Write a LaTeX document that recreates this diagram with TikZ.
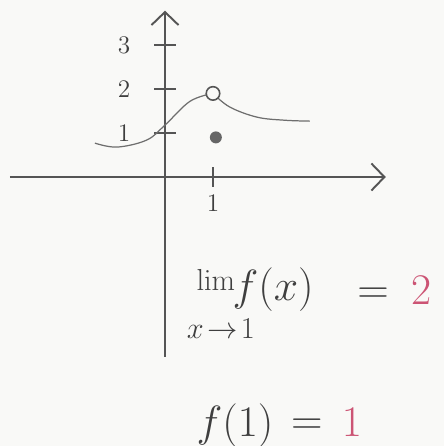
\documentclass[tikz,border=0pt]{standalone}
\usepackage{amsmath,amssymb}
\usepackage{xcolor}
\usepackage{tikz}
\usetikzlibrary{positioning,arrows.meta,calc}
\definecolor{penGray}{HTML}{555555}
\definecolor{inkGray}{HTML}{3F3F3F}
\definecolor{penRed}{HTML}{CC5474}
\definecolor{paper}{HTML}{F9F9F7}
\tikzset{
  axis/.style={draw=penGray,line width=1.1pt,-{Straight Barb[length=2.6mm,width=5.4mm,line width=1.1pt]}},
  tick/.style={draw=penGray,line width=1.1pt},
  curve/.style={draw=penGray!85,line width=0.7pt},
  ticklabel/.style={text=inkGray,font=\fontsize{15}{17}\selectfont},
  bigmath/.style={text=inkGray,font=\fontsize{25}{29}\selectfont,anchor=base west,inner sep=0pt},
  smallmath/.style={text=inkGray,font=\fontsize{17}{19}\selectfont,anchor=base west,inner sep=0pt}
}

\begin{document}
\begin{tikzpicture}[x=0.96cm,y=0.88cm]
  \useasboundingbox[fill=paper] (-3.4375,-6.114) rectangle (5.8125,4.023);

  % axes
  \coordinate (xstart) at (-3.23,0);
  \coordinate (xend) at (4.6,0);
  \coordinate (ystart) at (0,-4.09);
  \coordinate (yend) at (0,3.78);
  \draw[axis] (xstart) -- (xend);
  \draw[axis] (ystart) -- (yend);

  % ticks and labels
  \foreach \y in {1,2,3} {
    \draw[tick] (-0.22,\y) -- (0.22,\y);
    \node[ticklabel] (ylab\y) at (-0.85,\y) {$\y$};
  }
  \draw[tick] (1,-0.22) -- (1,0.22);
  \node[ticklabel] (xlab1) at (1,-0.6) {$1$};

  % the function
  \draw[curve] plot[smooth,tension=0.6] coordinates
    {(-1.46,0.77) (-1.0,0.68) (-0.38,0.84) (0,1.18) (0.52,1.72) (1,1.9)};
  \draw[curve] plot[smooth,tension=0.6] coordinates
    {(1,1.9) (1.35,1.59) (1.92,1.36) (2.5,1.29) (3.02,1.27)};
  \node[circle,draw=penGray,line width=0.9pt,fill=paper,inner sep=0pt,
    minimum size=0.27cm] (hole) at (1,1.9) {};
  \node[circle,fill=penGray!90,inner sep=0pt,minimum size=0.24cm] (value) at (1.06,0.9) {};

  % limit and value
  \node[smallmath] (lim) at (0.65,-2.58) {$\lim$};
  \node[smallmath] (approach) at (0.45,-3.66) {$x\!\to\!1$};
  \node[bigmath] (fx) at (1.4,-2.8) {$f(x)$};
  \node[bigmath] (eqA) at (4.0,-2.88) {$=$};
  \node[bigmath,text=penRed] (two) at (5.12,-2.9) {$2$};

  \node[bigmath] (fone) at (0.65,-5.89) {$f(1)$};
  \node[bigmath] (eqB) at (2.62,-5.86) {$=$};
  \node[bigmath,text=penRed] (one) at (3.68,-5.89) {$1$};
\end{tikzpicture}
\end{document}
